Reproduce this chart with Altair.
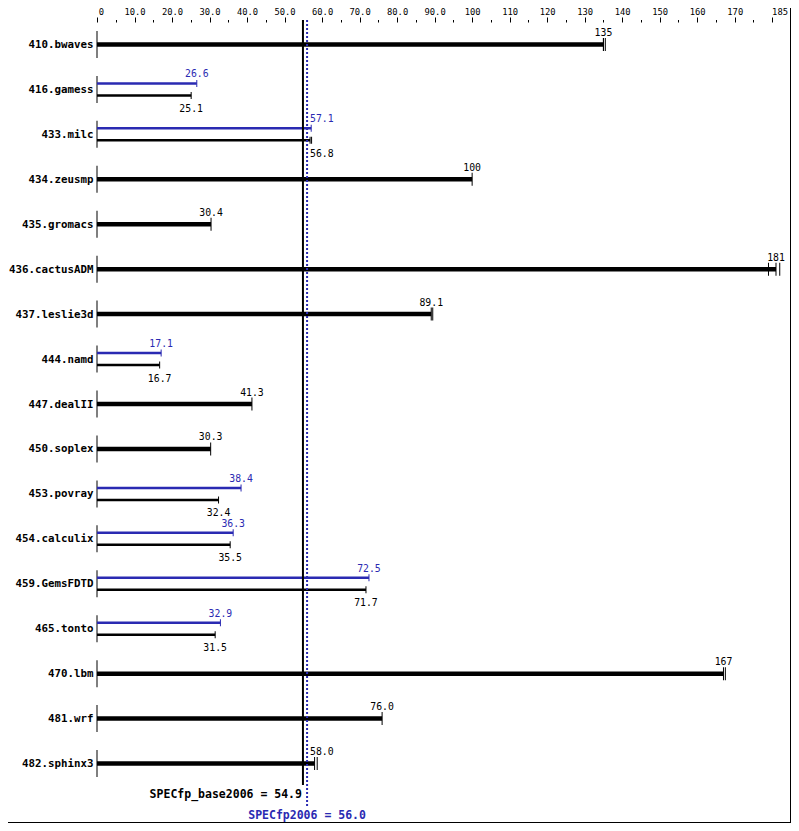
import altair as alt
import pandas as pd

benchmarks = ["410.bwaves", "416.gamess", "433.milc", "434.zeusmp", "435.gromacs",
              "436.cactusADM", "437.leslie3d", "444.namd", "447.dealII", "450.soplex",
              "453.povray", "454.calculix", "459.GemsFDTD", "465.tonto", "470.lbm",
              "481.wrf", "482.sphinx3"]
base_scores = [135, 25.1, 56.8, 100, 30.4, 181, 89.1, 16.7, 41.3, 30.3,
               32.4, 35.5, 71.7, 31.5, 167, 76.0, 58.0]
peak_scores = [135, 26.6, 57.1, 100, 30.4, 181, 89.1, 17.1, 41.3, 30.3,
               38.4, 36.3, 72.5, 32.9, 167, 76.0, 58.0]
base_runs = [[135.0, 135.0, 135.5], [25.1], [56.8, 57.2], [100], [30.4],
             [179.0, 181.0, 182.0], [89.1, 89.5], [16.7], [41.3], [30.3],
             [32.4], [35.5], [71.7], [31.5], [167.0, 167.5], [76.0], [58.0, 58.7]]
peak_runs = [[135.0, 135.0, 135.5], [26.6], [57.1], [100], [30.4],
             [179.0, 181.0, 182.0], [89.1, 89.5], [17.1], [41.3], [30.3],
             [38.4], [36.3], [72.5], [32.9], [167.0, 167.5], [76.0], [58.0, 58.7]]
score_names = ["SPECfp_base2006", "SPECfp2006"]
score_values = [54.9, 56.0]
x_ticks = [0, 5, 10, 15, 20, 25, 30, 35, 40, 45, 50, 55, 60, 65, 70, 75, 80, 85, 90,
           95, 100, 105, 110, 115, 120, 125, 130, 135, 140, 145, 150, 155, 160, 165,
           170, 175, 180, 185]
x_max = 185

BLUE = "#2a2ab2"
MONO = "DejaVu Sans Mono"
W, H = 694, 764

bars, runs = [], []
for b, bs, pk, br, pr in zip(benchmarks, base_scores, peak_scores, base_runs, peak_runs):
    if bs == pk:
        bars.append(dict(bench=b, series="single", value=bs))
        runs += [dict(bench=b, series="single", value=v) for v in br]
    else:
        bars.append(dict(bench=b, series="peak", value=pk))
        bars.append(dict(bench=b, series="base", value=bs))
        runs += [dict(bench=b, series="peak", value=v) for v in pr]
        runs += [dict(bench=b, series="base", value=v) for v in br]
bars = pd.DataFrame(bars)
runs = pd.DataFrame(runs)
rows = pd.DataFrame({"bench": benchmarks})
scores = pd.DataFrame({"name": score_names, "score": score_values, "series": ["base", "peak"]})
ends = pd.DataFrame({"v": [x_max]})

xs = alt.Scale(domain=[0, x_max], nice=False, zero=True)
label_expr = ("datum.value == 0 ? '0' : (datum.value % 10 != 0) ? '' : "
              "datum.value == 180 ? '' : datum.value < 100 ? format(datum.value, '.1f') : "
              "format(datum.value, 'd')")
xaxis = alt.Axis(orient="top", values=x_ticks, labelExpr=label_expr, domain=False, grid=False,
                 tickColor="black", tickWidth=1,
                 tickSize={"condition": {"test": "datum.value % 10 == 5 && datum.value != 185",
                                         "value": 2.5}, "value": 5},
                 labelFont=MONO, labelFontSize=8.8, labelColor="black", labelPadding=1,
                 labelFlush=False, labelBound=False,
                 labelOffset={"condition": {"test": "datum.value == 0", "value": 4},
                              "value": 0},
                 title=None)
yenc = alt.Y("bench:N", sort=benchmarks, scale=alt.Scale(type="point", padding=0.5),
             axis=alt.Axis(domain=False, ticks=False, labelPadding=4, labelFont=MONO,
                           labelFontSize=10.8, labelFontWeight="bold", labelColor="black",
                           labelLimit=200, title=None), title=None)


def X(field):
    return alt.X(field, scale=xs, axis=xaxis, title=None)


segs = alt.Chart(rows).transform_calculate(zero="0").mark_tick(
    color="black", size=27, thickness=1, opacity=1).encode(x=X("zero:Q"), y=yenc)

bar_base = alt.Chart(bars).transform_calculate(zero="0")
single_bar = bar_base.transform_filter("datum.series == 'single'").mark_rule(
    color="black", strokeWidth=4.5).encode(x=X("zero:Q"), x2="value:Q", y=yenc)
peak_bar = bar_base.transform_filter("datum.series == 'peak'").mark_rule(
    color=BLUE, strokeWidth=2.5, yOffset=-6).encode(x=X("zero:Q"), x2="value:Q", y=yenc)
base_bar = bar_base.transform_filter("datum.series == 'base'").mark_rule(
    color="black", strokeWidth=2.5, yOffset=6).encode(x=X("zero:Q"), x2="value:Q", y=yenc)

run_base = alt.Chart(runs)
single_runs = run_base.transform_filter("datum.series == 'single'").mark_tick(
    color="black", size=13, thickness=1, opacity=1).encode(x=X("value:Q"), y=yenc)
peak_runs_l = run_base.transform_filter("datum.series == 'peak'").mark_tick(
    color=BLUE, size=7, thickness=1, yOffset=-6, opacity=1).encode(x=X("value:Q"), y=yenc)
base_runs_l = run_base.transform_filter("datum.series == 'base'").mark_tick(
    color="black", size=7, thickness=1, yOffset=6, opacity=1).encode(x=X("value:Q"), y=yenc)

lab = alt.Chart(bars).transform_calculate(
    label="datum.value >= 100 ? format(datum.value, '.0f') : format(datum.value, '.1f')",
    near=f"abs(datum.value - {sum(score_values) / 2}) < 4 ? 1 : 0",
    lx=f"{score_values[1]}")
txt_kw = dict(font=MONO, fontSize=9.8, baseline="alphabetic")
lab_far = lab.transform_filter("datum.near == 0")
lab_near = lab.transform_filter("datum.near == 1")
labels = []
for series, dy, color in [("single", -8.5, "black"), ("peak", -12, BLUE), ("base", 22.5, "black")]:
    labels.append(lab_far.transform_filter(f"datum.series == '{series}'").mark_text(
        align="center", dy=dy, color=color, **txt_kw).encode(
        x=X("value:Q"), y=yenc, text="label:N"))
    labels.append(lab_near.transform_filter(f"datum.series == '{series}'").mark_text(
        align="left", dx=3, dy=dy, color=color, **txt_kw).encode(
        x=X("lx:Q"), y=yenc, text="label:N"))

end_label = alt.Chart(ends).transform_calculate(t="format(datum.v, 'd')").mark_text(
    font=MONO, fontSize=8.8, color="black", align="right", baseline="alphabetic", dx=-3).encode(
    x=X("v:Q"), y=alt.value(-7.5), text="t:N")

sc = alt.Chart(scores).transform_calculate(
    txt="datum.name + ' = ' + format(datum.score, '.1f')")
base_line = sc.transform_filter("datum.series == 'base'").mark_rule(
    color="black", strokeWidth=2).encode(x=X("score:Q"), y=alt.value(-2), y2=alt.value(763))
peak_line = sc.transform_filter("datum.series == 'peak'").mark_rule(
    color=BLUE, strokeWidth=2, strokeDash=[2, 2]).encode(
    x=X("score:Q"), y=alt.value(-2), y2=alt.value(786))
base_txt = sc.transform_filter("datum.series == 'base'").mark_text(
    font=MONO, fontSize=11.5, fontWeight="bold", color="black", align="right",
    baseline="middle", dx=-1).encode(x=X("score:Q"), y=alt.value(773), text="txt:N")
peak_txt = sc.transform_filter("datum.series == 'peak'").mark_text(
    font=MONO, fontSize=11.5, fontWeight="bold", color=BLUE, align="center",
    baseline="middle").encode(x=X("score:Q"), y=alt.value(794), text="txt:N")

frame_df = pd.DataFrame({"a": [0]})
frame_r = alt.Chart(frame_df).mark_rule(color="black", strokeWidth=1).encode(
    x=alt.value(W - 0.5), y=alt.value(-14), y2=alt.value(800.5))
frame_b = alt.Chart(frame_df).mark_rule(color="black", strokeWidth=1).encode(
    x=alt.value(-89), x2=alt.value(W), y=alt.value(800.5))

chart = alt.layer(
    segs, single_bar, peak_bar, base_bar, single_runs, peak_runs_l, base_runs_l,
    *labels, end_label, base_line, peak_line, base_txt, peak_txt, frame_r, frame_b
).properties(
    width=W, height=H,
    padding={"left": 89, "top": 14, "right": 0, "bottom": 37},
    autosize=alt.AutoSizeParams(type="none"),
    background="white",
).configure_view(strokeWidth=0)

chart.save("out.html", embed_options={"renderer": "svg", "actions": False})
